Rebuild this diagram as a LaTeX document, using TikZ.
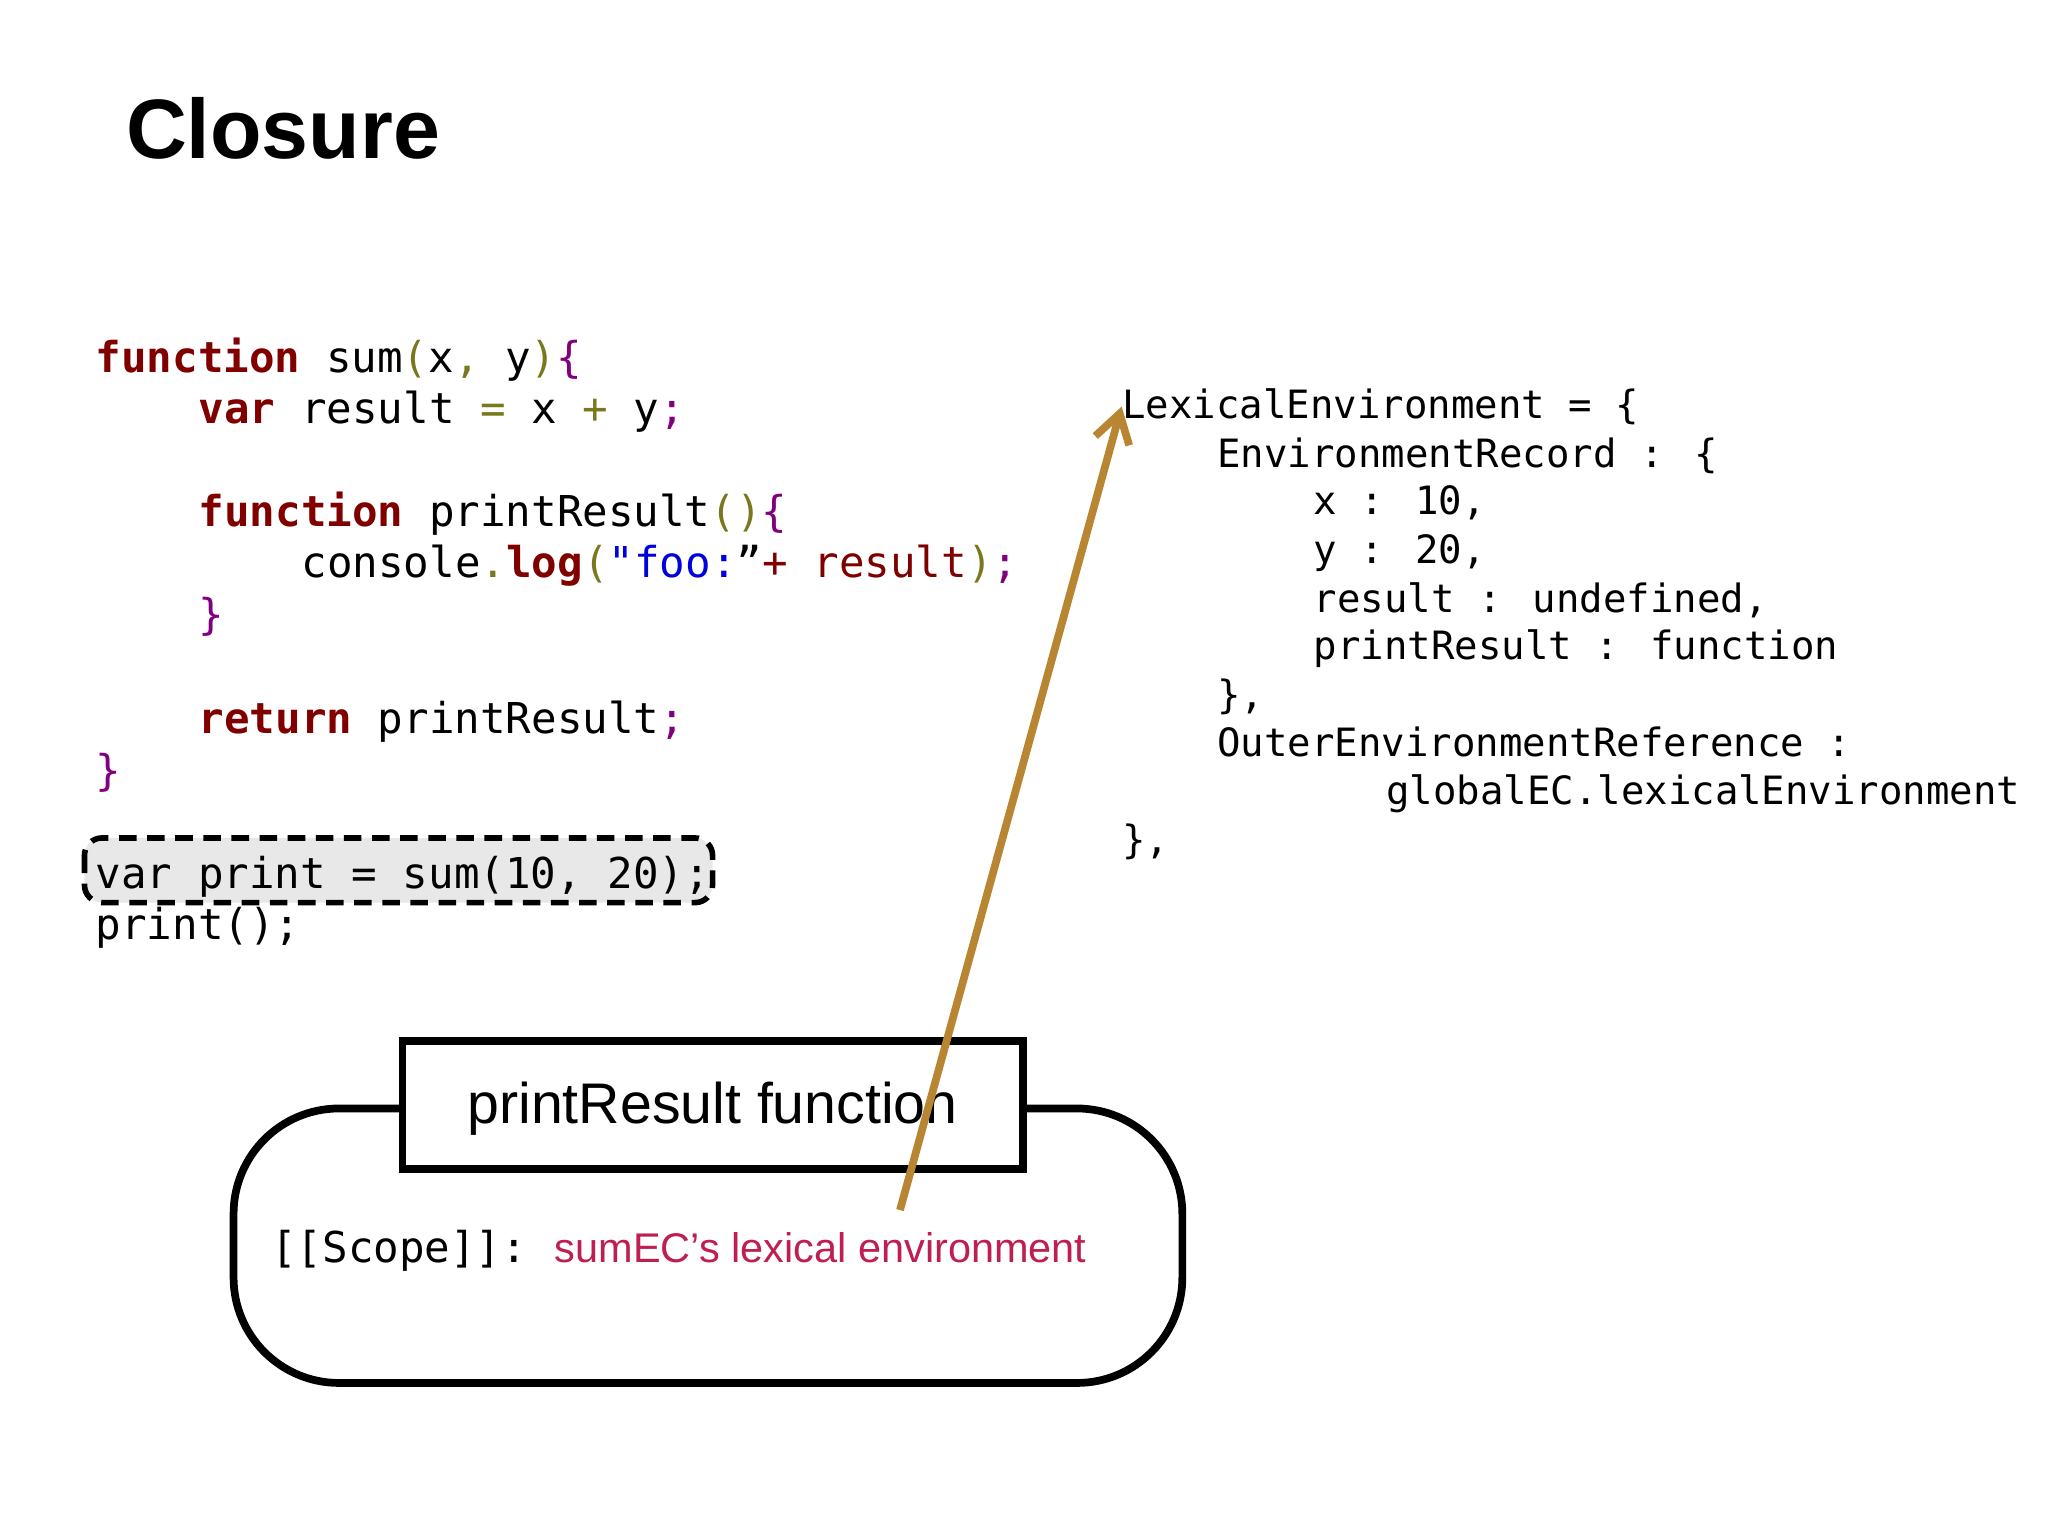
\documentclass[tikz,border=0pt]{standalone}
\usepackage{fontspec}
\setmainfont{Liberation Sans}
\newfontfamily\code{DejaVu Sans Mono}
\usetikzlibrary{arrows.meta}
\definecolor{kw}{RGB}{128,0,0}
\definecolor{ol}{RGB}{120,120,30}
\definecolor{pu}{RGB}{128,0,128}
\definecolor{bl}{RGB}{0,0,220}
\definecolor{crim}{RGB}{190,30,80}
\definecolor{gold}{RGB}{184,134,50}
\newcommand{\K}[1]{\textcolor{kw}{\bfseries #1}}
\newcommand{\Ol}[1]{\textcolor{ol}{#1}}
\newcommand{\Pu}[1]{\textcolor{pu}{#1}}
\begin{document}
\begin{tikzpicture}[x=0.013196cm,y=-0.013196cm,
  L/.style={anchor=base west,inner sep=0pt,font=\code\fontsize{12.1pt}{14pt}\selectfont},
  R/.style={anchor=base west,inner sep=0pt,font=\code\fontsize{11.1pt}{13pt}\selectfont}]
\useasboundingbox (0,0) rectangle (1552,1164);
\node[anchor=base west,inner sep=0pt,font=\bfseries\fontsize{24pt}{28pt}\selectfont] (title) at (95,120) {Closure};
% highlighted line box
\draw[line width=1.6pt,rounded corners=5pt,fill=gray!18,dash pattern=on 5pt off 3pt] (64,635) rectangle (540,684);
% left code
\node[L] (l1) at (72,282) {\K{function} sum\Ol{(}x\Ol{,} y\Ol{)}\Pu{\{}};
\node[L] (l2) at (150,321) {\K{var} result \Ol{=} x \Ol{+} y\Pu{;}};
\node[L] (l3) at (150,399) {\K{function} printResult\Ol{()}\Pu{\{}};
\node[L] (l4) at (228,438) {console\Ol{.}\K{log}\Ol{(}\textcolor{bl}{"foo:}”\textcolor{kw}{+ result}\Ol{)}\Pu{;}};
\node[L] (l5) at (150,477) {\Pu{\}}};
\node[L] (l6) at (150,556) {\K{return} printResult\Pu{;}};
\node[L] (l7) at (72,595) {\Pu{\}}};
\node[L] (l8) at (72,673) {var print = sum(10, 20);};
\node[L] (l9) at (72,712) {print();};
% right
\node[R] (le) at (850,317) {LexicalEnvironment = \{};
\node[R] (r2) at (922,354) {EnvironmentRecord : \{};
\node[R] (r3) at (995,390) {x : 10,};
\node[R] (r4) at (995,427) {y : 20,};
\node[R] (r5) at (995,464) {result : undefined,};
\node[R] (r6) at (995,500) {printResult : function};
\node[R] (r7) at (922,537) {\},};
\node[R] (r8) at (922,573) {OuterEnvironmentReference :};
\node[R] (r9) at (1050,610) {globalEC.lexicalEnvironment};
\node[R] (r10) at (850,647) {\},};
% function box
\draw[line width=2.2pt,rounded corners=30pt] (177,840) rectangle (896,1048);
\draw[line width=2.2pt,fill=white] (305,789) rectangle (775,886);
\node[inner sep=0pt,font=\fontsize{16.3pt}{19pt}\selectfont] (fn) at (540,840) {printResult function};
\node[L] (sc) at (205,957) {[[Scope]]:};
\node[anchor=base west,inner sep=0pt,text=crim,font=\fontsize{11.8pt}{14pt}\selectfont] (lex) at (420,957) {sumEC’s lexical environment};
\coordinate (a0) at (682,917);
\draw[gold,line width=2.2pt,-{Straight Barb[length=8pt,width=10pt]}] (a0) -- (le.west);
\end{tikzpicture}
\end{document}
